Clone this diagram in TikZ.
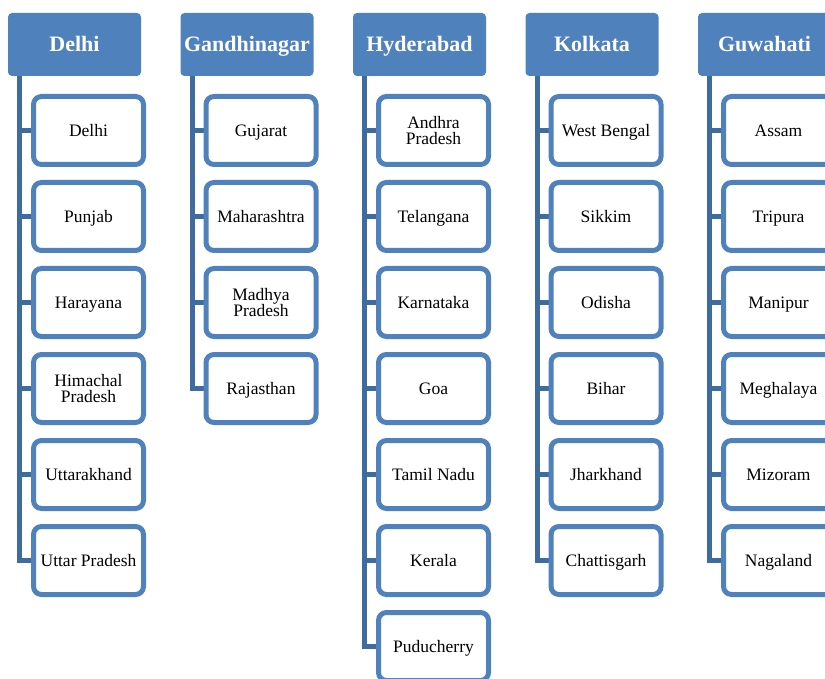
\documentclass[tikz,border=0pt]{standalone}
\usepackage{fontspec}
\setmainfont{Liberation Serif}
\usetikzlibrary{backgrounds}
\definecolor{hdrblue}{HTML}{4F81BD}
\definecolor{trunkblue}{HTML}{3F6C9F}
\newcommand\capstrut{\rule{0pt}{11.5pt}}
\begin{document}
\begin{tikzpicture}[x=1pt,y=-1pt,
  header/.style={fill=hdrblue, rounded corners=4pt, minimum width=133pt,
    minimum height=63pt, inner sep=0pt, text=white,
    text height=14.6pt, text depth=0pt,
    font=\fontsize{22}{24}\selectfont\bfseries},
  leaf/.style={draw=hdrblue, line width=5pt, fill=white, rounded corners=8pt,
    minimum width=110pt, minimum height=68pt, inner sep=0pt, align=center,
    text=black, text depth=0pt, font=\fontsize{17.5}{16}\selectfont,
    execute at begin node=\capstrut},
  link/.style={draw=trunkblue, line width=5pt}]
\useasboundingbox (0,0) rectangle (825,679);
\clip (0,0) rectangle (825,679);

% column headers, each with the top point of its trunk
\foreach \name [count=\k] in {Delhi,Gandhinagar,Hyderabad,Kolkata,Guwahati} {
  \node[header] (h\k) at ({8+172.5*(\k-1)+66.5},44.5) {\name};
  \coordinate (t\k) at ({8+172.5*(\k-1)+11.5},76);
}

% child boxes of each column
\foreach \t [count=\i] in {Delhi,Punjab,Harayana,{Himachal\\Pradesh},Uttarakhand,Uttar Pradesh}
  \node[leaf] (c1-\i) at (88.5,{130.5+86*(\i-1)}) {\t};
\foreach \t [count=\i] in {Gujarat,Maharashtra,{Madhya\\Pradesh},Rajasthan}
  \node[leaf] (c2-\i) at (261,{130.5+86*(\i-1)}) {\t};
\foreach \t [count=\i] in {{Andhra\\Pradesh},Telangana,Karnataka,Goa,Tamil Nadu,Kerala,Puducherry}
  \node[leaf] (c3-\i) at (433.5,{130.5+86*(\i-1)}) {\t};
\foreach \t [count=\i] in {West Bengal,Sikkim,Odisha,Bihar,Jharkhand,Chattisgarh}
  \node[leaf] (c4-\i) at (606,{130.5+86*(\i-1)}) {\t};
\foreach \t [count=\i] in {Assam,Tripura,Manipur,Meghalaya,Mizoram,Nagaland}
  \node[leaf] (c5-\i) at (778.5,{130.5+86*(\i-1)}) {\t};

% trunks and branches
\begin{scope}[on background layer]
  \foreach \k/\n in {1/6,2/4,3/7,4/6,5/6} {
    \draw[link] (t\k) |- (c\k-\n.west);
    \foreach \i in {1,...,\n}
      \draw[link] (t\k |- c\k-\i.west) -- (c\k-\i.west);
  }
\end{scope}
\end{tikzpicture}
\end{document}
